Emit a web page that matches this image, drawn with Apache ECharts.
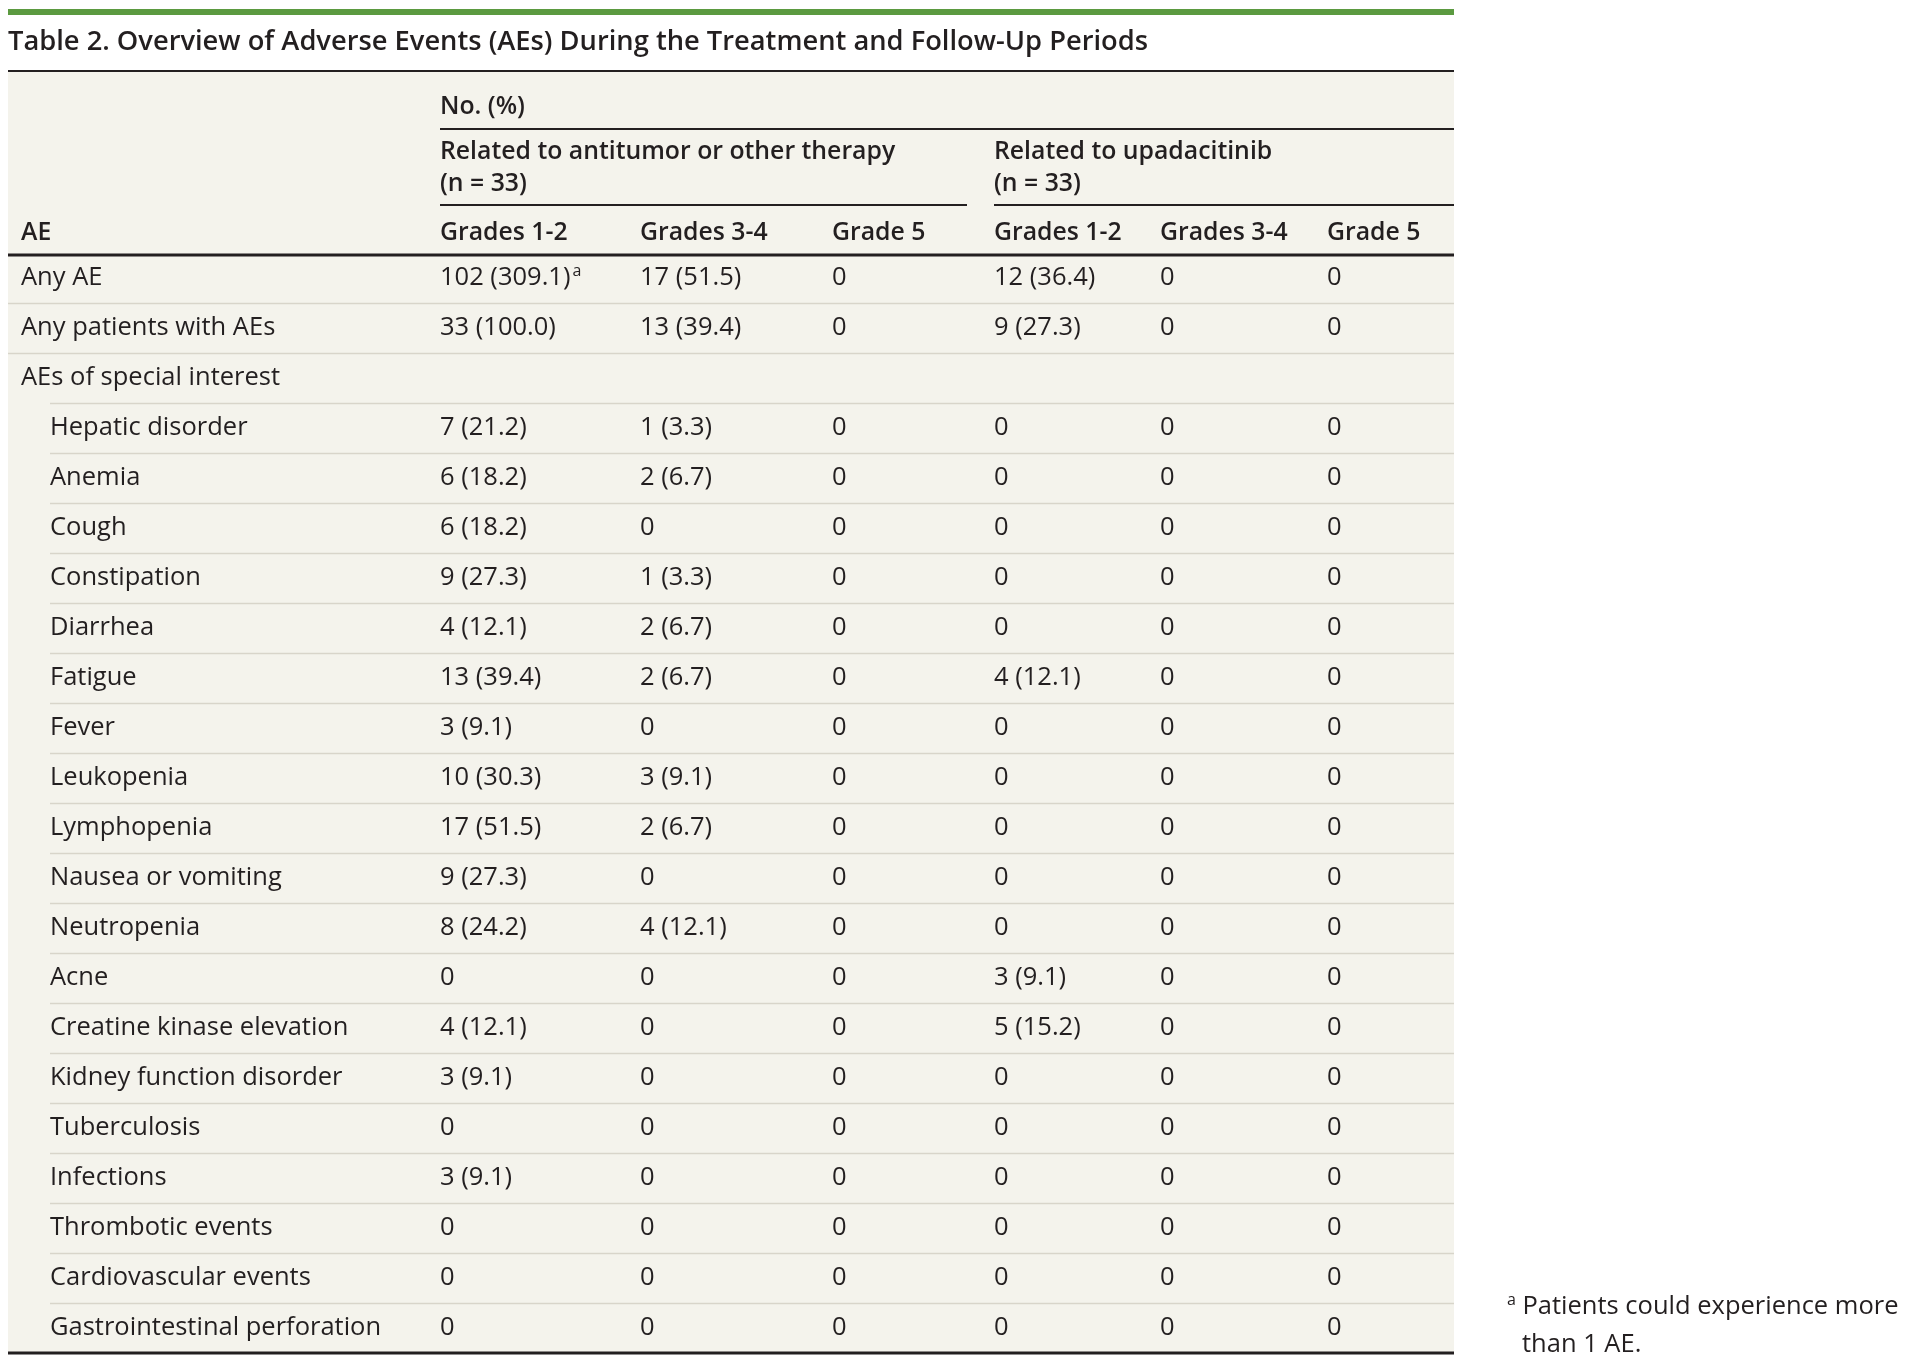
<!DOCTYPE html>
<html>
<head>
<meta charset="utf-8">
<script src="https://cdn.jsdelivr.net/npm/echarts@6/dist/echarts.min.js"></script>
<style>
  html, body { margin: 0; background: #fff; }
  #chart { width: 1905px; height: 1363px; }
</style>
</head>
<body>
<div id="chart"></div>
<script>
// row labels (rows from subRowStart on are indented)
const rowNames = [
  'Any AE', 'Any patients with AEs', 'AEs of special interest',
  'Hepatic disorder', 'Anemia', 'Cough', 'Constipation', 'Diarrhea', 'Fatigue',
  'Fever', 'Leukopenia', 'Lymphopenia', 'Nausea or vomiting', 'Neutropenia',
  'Acne', 'Creatine kinase elevation', 'Kidney function disorder', 'Tuberculosis',
  'Infections', 'Thrombotic events', 'Cardiovascular events', 'Gastrointestinal perforation'
];
const subRowStart = 3;

// related to antitumor or other therapy (n = 33)
const antiG12 = ['102 (309.1)', '33 (100.0)', '', '7 (21.2)', '6 (18.2)', '6 (18.2)', '9 (27.3)', '4 (12.1)', '13 (39.4)',
  '3 (9.1)', '10 (30.3)', '17 (51.5)', '9 (27.3)', '8 (24.2)', '0', '4 (12.1)', '3 (9.1)', '0', '3 (9.1)', '0', '0', '0'];
const antiG34 = ['17 (51.5)', '13 (39.4)', '', '1 (3.3)', '2 (6.7)', '0', '1 (3.3)', '2 (6.7)', '2 (6.7)',
  '0', '3 (9.1)', '2 (6.7)', '0', '4 (12.1)', '0', '0', '0', '0', '0', '0', '0', '0'];
const antiG5 = ['0', '0', '', '0', '0', '0', '0', '0', '0', '0', '0', '0', '0', '0', '0', '0', '0', '0', '0', '0', '0', '0'];

// related to upadacitinib (n = 33)
const upaG12 = ['12 (36.4)', '9 (27.3)', '', '0', '0', '0', '0', '0', '4 (12.1)',
  '0', '0', '0', '0', '0', '3 (9.1)', '5 (15.2)', '0', '0', '0', '0', '0', '0'];
const upaG34 = ['0', '0', '', '0', '0', '0', '0', '0', '0', '0', '0', '0', '0', '0', '0', '0', '0', '0', '0', '0', '0', '0'];
const upaG5 = ['0', '0', '', '0', '0', '0', '0', '0', '0', '0', '0', '0', '0', '0', '0', '0', '0', '0', '0', '0', '0', '0'];

const valueColumns = [antiG12, antiG34, antiG5, upaG12, upaG34, upaG5];
const columnLabels = ['AE', 'Grades 1-2', 'Grades 3-4', 'Grade 5', 'Grades 1-2', 'Grades 3-4', 'Grade 5'];
const groupLabels = ['Related to antitumor or other therapy', 'Related to upadacitinib'];
const groupN = ['(n = 33)', '(n = 33)'];
const noteCells = [{ row: 0, col: 1, mark: 'a' }];

// layout
const tableLeft = 8;
const tableWidth = 1446;
const colX = [13, 432, 632, 824, 986, 1152, 1319]; // text start, relative to table left
const indentX = 42;
const bodyTop = 253;
const rowH = 50;

const FONT = '"Open Sans", "Noto Sans", sans-serif';
const INK = '#231f20';
const BG = '#f4f3ec';
const SEP = '#d8d5ca';
const BODY_SIZE = 25.5;
const HEAD_SIZE = 24.8;

var dom = document.getElementById('chart');
var myChart = echarts.init(dom, null, { renderer: 'canvas' });

function txt(x, y, text, bold, size) {
  return {
    type: 'text', x: x, y: y, z: 10,
    style: {
      text: text, fill: INK, fontFamily: FONT,
      fontSize: size || (bold ? HEAD_SIZE : BODY_SIZE), fontWeight: bold ? 600 : 400,
      align: 'left', verticalAlign: 'middle'
    }
  };
}
function rule(x1, x2, y, w, color) {
  return {
    type: 'line', z: 5,
    shape: { x1: x1, y1: y, x2: x2, y2: y },
    style: { stroke: color || INK, lineWidth: w }
  };
}

const L = tableLeft;
const R = tableLeft + tableWidth;
const graphics = [
  { type: 'rect', z: 0, shape: { x: L, y: 9, width: tableWidth, height: 6 }, style: { fill: '#5b9a40' } },
  { type: 'rect', z: 0, shape: { x: L, y: 72, width: tableWidth, height: bodyTop + rowH * rowNames.length - 72 }, style: { fill: BG } },
  txt(L, 42, 'Table 2. Overview of Adverse Events (AEs) During the Treatment and Follow-Up Periods', true, 27.3),
  rule(L, R, 71, 2),
  txt(L + colX[1], 107, 'No. (%)', true),
  rule(L + colX[1], R, 129, 2),
  txt(L + colX[1], 152, groupLabels[0], true),
  txt(L + colX[1], 184, groupN[0], true),
  txt(L + colX[4], 152, groupLabels[1], true),
  txt(L + colX[4], 184, groupN[1], true),
  rule(L + colX[1], L + colX[4] - 27, 205, 2),
  rule(L + colX[4], R, 205, 2),
  rule(L, R, 255, 3),
  rule(L, R, bodyTop + rowH * rowNames.length, 3),
  {
    type: 'text', x: 1507, y: 1307, z: 10,
    style: {
      text: '{s|a} {v|Patients could experience more}',
      fill: INK, fontFamily: FONT, fontSize: BODY_SIZE, verticalAlign: 'middle',
      rich: {
        v: { fontFamily: FONT, fontSize: BODY_SIZE, lineHeight: 30, fill: INK },
        s: { fontFamily: FONT, fontSize: 16, lineHeight: 18, fill: INK, verticalAlign: 'top' }
      }
    }
  },
  txt(1522, 1345, 'than 1 AE.', false)
];
columnLabels.forEach(function (label, c) {
  graphics.push(txt(L + colX[c], 233, label, true));
});

function renderRow(params, api) {
  const i = api.value(1);
  const p = api.coord([0, i]);
  const band = api.size([0, 1])[1];
  const yMid = p[1];
  const children = [];
  const nameX = api.coord([i >= subRowStart ? indentX : colX[0], i])[0];
  children.push(txt(nameX, yMid, rowNames[i], false));
  valueColumns.forEach(function (col, c) {
    const v = col[i];
    if (!v) return;
    const x = api.coord([colX[c + 1], i])[0];
    const note = noteCells.find(function (n) { return n.row === i && n.col === c + 1; });
    if (note) {
      children.push({
        type: 'text', x: x, y: yMid,
        style: {
          text: '{v|' + v + '}{s|' + note.mark + '}',
          fill: INK, fontFamily: FONT, fontSize: BODY_SIZE, verticalAlign: 'middle',
          rich: {
            v: { fontFamily: FONT, fontSize: BODY_SIZE, lineHeight: 30, fill: INK },
            s: { fontFamily: FONT, fontSize: 16, lineHeight: 18, fill: INK, verticalAlign: 'top', padding: [0, 0, 0, 2] }
          }
        }
      });
    } else {
      children.push(txt(x, yMid, v, false));
    }
  });
  if (i < rowNames.length - 1) {
    const sx = api.coord([i >= subRowStart - 1 ? indentX : 0, i])[0];
    const ex = api.coord([tableWidth, i])[0];
    children.push(rule(sx, ex, Math.round(yMid + band / 2) + 0.5, 1.5, SEP));
  }
  return { type: 'group', children: children };
}

var option = {
  animation: false,
  backgroundColor: '#fff',
  graphic: { elements: graphics },
  grid: { left: tableLeft, width: tableWidth, top: bodyTop, height: rowH * rowNames.length },
  xAxis: { type: 'value', min: 0, max: tableWidth, show: false },
  yAxis: { type: 'category', data: rowNames, inverse: true, show: false },
  series: [{
    type: 'custom',
    z: 5,
    encode: { x: 0, y: 1 },
    data: rowNames.map(function (n, i) { return [0, i]; }),
    renderItem: renderRow
  }]
};

myChart.setOption(option);
</script>
</body>
</html>
